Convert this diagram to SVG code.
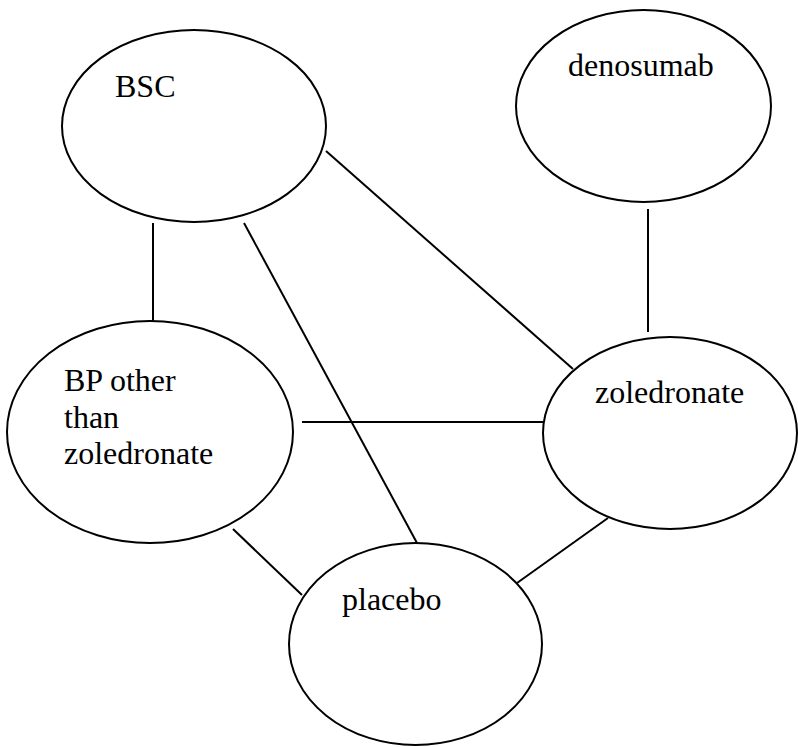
<svg xmlns="http://www.w3.org/2000/svg" width="798" height="747" viewBox="0 0 798 747">
<style>
.n{fill:#fff;stroke:#000;stroke-width:2}
.t{font-family:'Liberation Serif',Tinos,'DejaVu Serif',serif;font-size:32px;fill:#000}
.c line{stroke:#000;stroke-width:2}
</style>
<rect width="798" height="747" fill="#fff"/>
<g class="c" id="connectors">
<line x1="153" y1="223" x2="153" y2="321"/>
<line x1="244" y1="223" x2="417" y2="543"/>
<line x1="326" y1="151" x2="573" y2="369"/>
<line x1="648" y1="209" x2="648" y2="332"/>
<line x1="302" y1="422" x2="543" y2="422"/>
<line x1="233" y1="529" x2="302" y2="595"/>
<line x1="608" y1="518" x2="517" y2="583"/>
</g>
<g id="bsc"><ellipse class="n" cx="194" cy="126" rx="132" ry="96"/><text class="t" font-family="Liberation Serif, serif" x="115" y="97">BSC</text></g>
<g id="denosumab"><ellipse class="n" cx="643.5" cy="106" rx="127.5" ry="96"/><text class="t" font-family="Liberation Serif, serif" x="568" y="76">denosumab</text></g>
<g id="bp"><ellipse class="n" cx="150" cy="432" rx="143" ry="111"/><text class="t" font-family="Liberation Serif, serif" x="64" y="391">BP other</text><text class="t" font-family="Liberation Serif, serif" x="64" y="428">than</text><text class="t" font-family="Liberation Serif, serif" x="64" y="464">zoledronate</text></g>
<g id="zoledronate"><ellipse class="n" cx="670" cy="433" rx="127" ry="96"/><text class="t" font-family="Liberation Serif, serif" x="595" y="403">zoledronate</text></g>
<g id="placebo"><ellipse class="n" cx="415.5" cy="644" rx="126.5" ry="101"/><text class="t" font-family="Liberation Serif, serif" x="342" y="610">placebo</text></g>
</svg>
